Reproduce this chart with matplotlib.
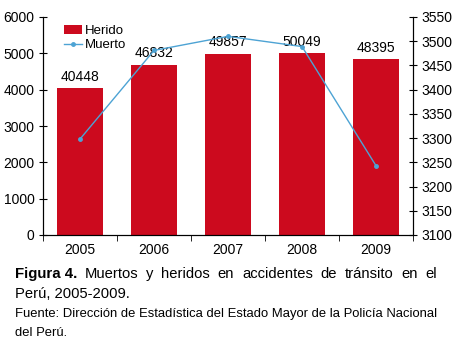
import numpy as np
import matplotlib
matplotlib.use('Agg')
import matplotlib.pyplot as plt

plt.rcParams['font.family'] = ['Liberation Sans', 'DejaVu Sans']

years = ['2005', '2006', '2007', '2008', '2009']
heridos = [40448, 46832, 49857, 50049, 48395]
muertos = [3298, 3481, 3510, 3489, 3243]

left_ticks = [0, 10000, 20000, 30000, 40000, 50000, 60000]
left_labels = ['0', '1000', '2000', '3000', '4000', '5000', '6000']
right_ticks = list(range(3100, 3551, 50))

bar_color = '#cc0a1e'
line_color = '#4da3d4'

fig = plt.figure(figsize=(4.54, 3.42), dpi=100)
ax = fig.add_axes([43/454, 1 - 235/342, 370/454, 218/342])

x = np.arange(len(years))
ax.bar(x, heridos, width=0.61, color=bar_color, label='Herido', zorder=2)
for xi, h in zip(x, heridos):
    ax.text(xi, h + 1200, str(h), ha='center', va='bottom', fontsize=10)

ax.set_xlim(-0.5, len(years) - 0.5)
ax.set_ylim(0, 60000)
ax.set_yticks(left_ticks)
ax.set_yticklabels(left_labels, fontsize=10)
ax.set_xticks(x)
ax.set_xticklabels(years, fontsize=10)
ax.set_xticks(np.arange(-0.5, len(years), 1), minor=True)
ax.tick_params(axis='x', which='major', length=0, pad=6)
ax.tick_params(axis='x', which='minor', length=4, direction='out')
ax.tick_params(axis='y', direction='inout', length=6, pad=3)
ax.spines['top'].set_visible(False)

ax2 = ax.twinx()
ax2.plot(x, muertos, color=line_color, lw=1.0, marker='o', ms=2.5, label='Muerto', zorder=3)
ax2.set_ylim(3100, 3550)
ax2.set_yticks(right_ticks)
ax2.set_yticklabels([str(t) for t in right_ticks], fontsize=10)
ax2.tick_params(axis='y', direction='inout', length=6, pad=3)
ax2.spines['top'].set_visible(False)

h1, l1 = ax.get_legend_handles_labels()
h2, l2 = ax2.get_legend_handles_labels()
ax2.legend(h1 + h2, l1 + l2, loc='upper left', bbox_to_anchor=(0.035, 1.0),
           frameon=False, fontsize=9.5, handlelength=1.4, handletextpad=0.2,
           labelspacing=0.15, borderaxespad=0.2)

# caption, first line justified between x=15 and x=437 px
W = 454.0
fig.canvas.draw()
r = fig.canvas.get_renderer()
y1 = 1 - 274/342
bold = fig.text(15/W, y1, 'Figura 4.', fontsize=10.8, fontweight='bold', va='center')
words = 'Muertos y heridos en accidentes de tránsito en el'.split()
texts = [fig.text(0, y1, w, fontsize=10.6, va='center') for w in words]
bw = bold.get_window_extent(r).width
widths = [t.get_window_extent(r).width for t in texts]
start = 15 + bw
gap = (437 - start - sum(widths)) / len(words)
xpos = start + gap
for t, w in zip(texts, widths):
    t.set_x(xpos / W)
    xpos += w + gap

fig.text(15/W, 1 - 294/342, 'Perú, 2005-2009.', fontsize=10.6, va='center')
fig.text(15/W, 1 - 314/342, 'Fuente: Dirección de Estadística del Estado Mayor de la Policía Nacional',
         fontsize=9.4, va='center')
fig.text(15/W, 1 - 333/342, 'del Perú.', fontsize=9.4, va='center')

fig.savefig('out.png', dpi=100)
